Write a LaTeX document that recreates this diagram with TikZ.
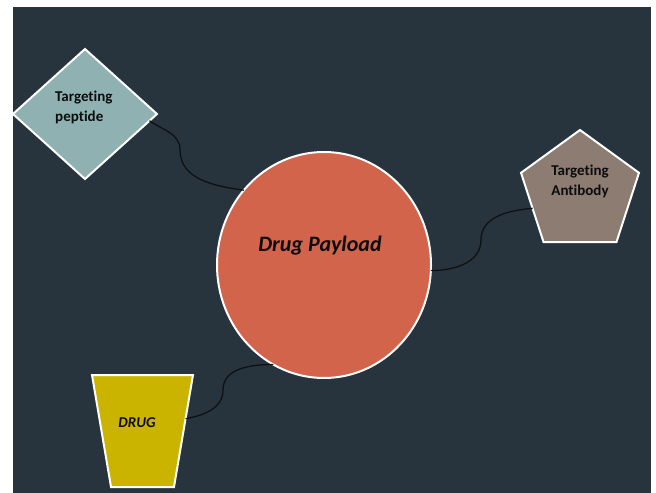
\documentclass[tikz,border=0pt]{standalone}
\usepackage{fontspec}
\setmainfont{Carlito}[Ligatures=NoCommon]
\usetikzlibrary{shapes.geometric}
\definecolor{slatebg}{HTML}{28343D}
\definecolor{pepfill}{HTML}{8FB1B2}
\definecolor{abfill}{HTML}{8C7C72}
\definecolor{payfill}{HTML}{D1644A}
\definecolor{drugfill}{HTML}{CBB400}
\definecolor{inkdark}{HTML}{0C0C0C}
\definecolor{linkdark}{HTML}{0E1114}
\begin{document}
\begin{tikzpicture}[x=1bp,y=1bp,
    shapebox/.style={draw=white, line width=2bp, inner sep=0pt, outer sep=0pt},
    lbl/.style={inner sep=0pt, text=inkdark, font=\bfseries\fontsize{15bp}{19.5bp}\selectfont},
    link/.style={draw=linkdark, line width=1.3bp}]
    \useasboundingbox (0,0) rectangle (656,-493);
    \fill [white] (0,0) rectangle (656,-493);
    \fill [slatebg] (13,-7) rectangle (651,-493);
    % shapes
    \node [shapebox, diamond, fill=pepfill, minimum width=144bp, minimum height=130bp] (pep) at (85,-114) {};
    \node [shapebox, ellipse, fill=payfill, minimum width=214bp, minimum height=226bp] (pay) at (324,-265) {};
    \node [shapebox, regular polygon, regular polygon sides=5, fill=abfill, minimum size=124bp] (pent) at (580,-192) {};
    \node [shapebox, trapezium, trapezium angle=73.2, trapezium stretches=true, shape border rotate=180,
        inner sep=3bp, fill=drugfill, minimum width=101bp, minimum height=112bp] (drug) at (142.5,-431) {};
    % labels
    \node [lbl, align=left, anchor=north west] (peplbl) at (55,-91) {Targeting\\peptide};
    \node [lbl, align=center, anchor=north] (pentlbl) at (580,-165) {Targeting\\Antibody};
    \node [lbl, anchor=base, font=\bfseries\itshape\fontsize{22bp}{26bp}\selectfont] (paylbl) at (320,-252) {Drug Payload};
    \node [lbl, anchor=base, font=\bfseries\itshape\fontsize{15bp}{18bp}\selectfont] (druglbl) at (137,-427) {DRUG};
    % connectors
    \coordinate (bendA) at (180,-150);
    \coordinate (bendB) at (481,-240);
    \coordinate (bendC) at (223,-390);
    \draw [link] (pep.-6) to[out=-35,in=90] (bendA) to[out=-90,in=172] (pay.137);
    \draw [link] (pay.-3) to[out=0,in=-90] (bendB) to[out=90,in=185] (pent.199);
    \draw [link] (drug.16) to[out=10,in=-90] (bendC) to[out=90,in=180] (pay.243);
\end{tikzpicture}
\end{document}
